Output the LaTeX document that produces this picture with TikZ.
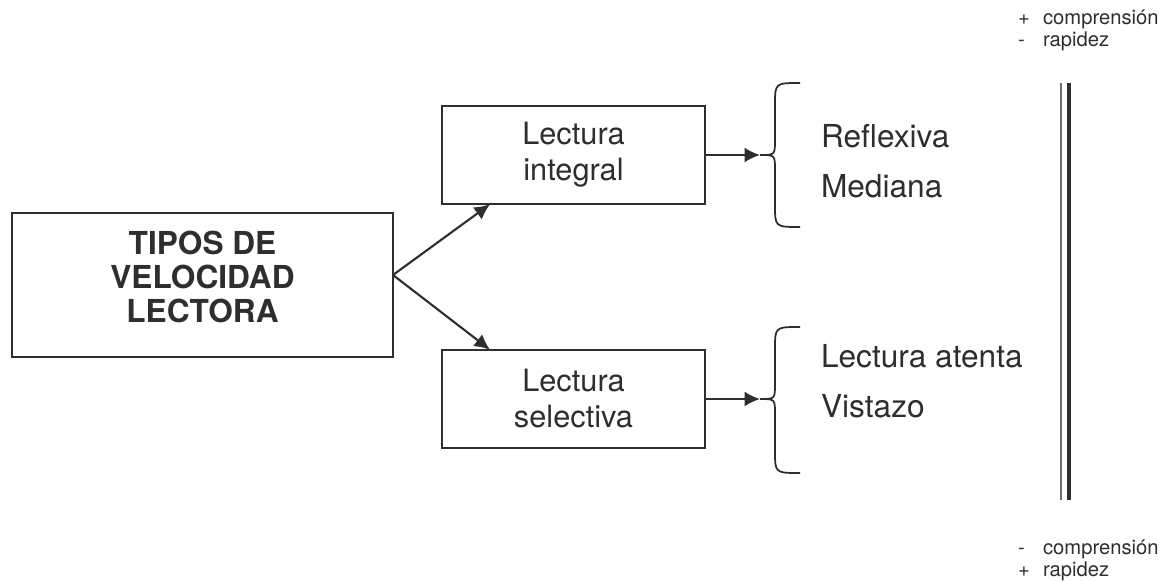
\documentclass[tikz,border=0pt]{standalone}
\usepackage{fontspec}
\setmainfont{TeX Gyre Heros}
\usetikzlibrary{arrows.meta}
\definecolor{ink}{gray}{0.18}
\newcommand{\signed}[2]{\makebox[0.5cm][l]{#1}#2}

\begin{document}
\begin{tikzpicture}[>={Latex[length=3.1mm,width=3mm]}, line width=1.2pt, color=ink]
      \tikzset{
        mainbox/.style={draw, minimum width=7.62cm, minimum height=2.88cm, align=center,
          text depth=0.32cm, font=\fontsize{18}{19.5}\selectfont\bfseries},
        box/.style={draw, minimum width=5.26cm, minimum height=1.97cm, align=center,
          font=\fontsize{17.5}{20.5}\selectfont},
        item/.style={anchor=base west, inner sep=0pt, font=\fontsize{18}{21}\selectfont},
        note/.style={anchor=base west, inner sep=0pt, font=\fontsize{11.5}{13}\selectfont}
      }
      \useasboundingbox (0,0) rectangle (23.26,11.6);

      \node[mainbox] (tipos)     at (4.05,5.9)  {TIPOS DE\\VELOCIDAD\\LECTORA};
      \node[box]     (integral)  at (11.47,8.5) {Lectura\\integral};
      \node[box]     (selectiva) at (11.47,3.62) {Lectura\\selectiva};

      \coordinate (fork)         at (7.86,6.1);
      \coordinate (integral-in)  at (9.8,7.515);
      \coordinate (selectiva-in) at (9.8,4.605);
      \coordinate (brace-i)      at (15.2,8.5);
      \coordinate (brace-s)      at (15.2,3.62);

      \draw[->] (fork) -- (integral-in);
      \draw[->] (fork) -- (selectiva-in);
      \draw[->] (integral) -- (brace-i);
      \draw[->] (selectiva) -- (brace-s);

      % braces
      \draw[line width=1pt] (16.0,9.94) .. controls (15.5,9.94) .. (15.5,9.5) -- (15.5,8.8)
        .. controls (15.5,8.5) .. (brace-i) .. controls (15.5,8.5) .. (15.5,8.2) -- (15.5,7.5)
        .. controls (15.5,7.06) .. (16.0,7.06);
      \draw[line width=1pt] (16.0,5.06) .. controls (15.5,5.06) .. (15.5,4.62) -- (15.5,3.92)
        .. controls (15.5,3.62) .. (brace-s) .. controls (15.5,3.62) .. (15.5,3.32) -- (15.5,2.58)
        .. controls (15.5,2.14) .. (16.0,2.14);

      \node[item] (reflexiva) at (16.4,8.64) {Reflexiva};
      \node[item] (mediana)   at (16.4,7.64) {Mediana};
      \node[item] (atenta)    at (16.4,4.24) {Lectura atenta};
      \node[item] (vistazo)   at (16.4,3.24) {Vistazo};

      % scale bar
      \draw[line width=0.04cm, ink!70] (21.22,9.94) -- (21.22,1.6);
      \draw[line width=0.09cm] (21.38,9.94) -- (21.38,1.6);

      \node[note] (top-comp) at (20.34,11.1)  {\signed{+}{comprensión}};
      \node[note] (top-rap)  at (20.34,10.66) {\signed{-}{rapidez}};
      \node[note] (bot-comp) at (20.34,0.52)  {\signed{-}{comprensión}};
      \node[note] (bot-rap)  at (20.34,0.08)  {\signed{+}{rapidez}};
\end{tikzpicture}
\end{document}
